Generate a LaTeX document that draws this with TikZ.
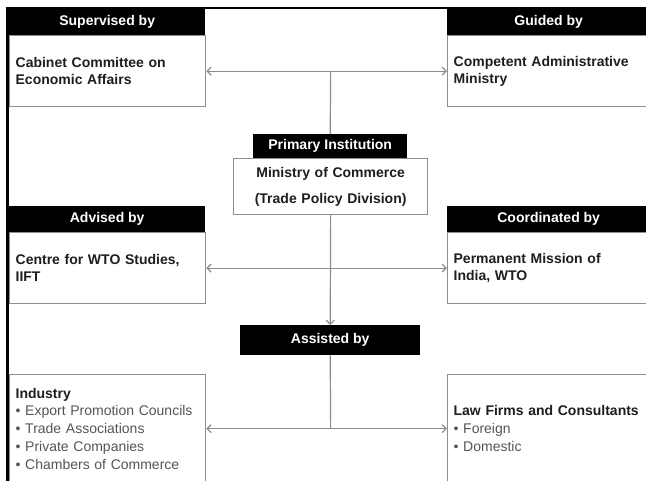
\documentclass[tikz,border=0pt]{standalone}
\usepackage{fontspec}
\setmainfont{Liberation Sans}
\usetikzlibrary{arrows.meta}
\definecolor{linegray}{HTML}{8C8C8C}
\definecolor{boxgray}{HTML}{8E8E8E}
\definecolor{txt}{HTML}{1E1E1E}
\definecolor{bul}{HTML}{555555}
\begin{document}
\begin{tikzpicture}[x=1pt,y=-1pt,
  >={Straight Barb[length=4pt,width=8pt]},
  hdr/.style={fill=black, text=white, font=\bfseries\fontsize{14}{16}\selectfont,
    inner sep=0pt, anchor=north west, minimum height=26pt},
  body/.style={draw=boxgray, line width=1.3pt, fill=white, anchor=north west,
    inner xsep=6pt, inner ysep=0pt, align=left, text=txt,
    font=\bfseries\fontsize{14}{16.5}\selectfont},
  listbody/.style={body, font=\bfseries\fontsize{14}{17.7}\selectfont},
  conn/.style={draw=linegray, line width=1.2pt}]
\useasboundingbox (0,0) rectangle (646,481);
\fill[white] (0,0) rectangle (646,481);
% frame
\draw[line width=2.4pt] (7.5,481) -- (7.5,7.8) -- (646,7.8);
% top row
\node[hdr, minimum width=196pt] (suph) at (9,9) {Supervised by};
\node[body, text width=184pt, minimum height=71pt] (supb) at (9,35) {Cabinet Committee on\\Economic Affairs};
\node[hdr, minimum width=203pt] (guih) at (447,9) {Guided by};
\node[body, text width=191pt, minimum height=71pt] (guib) at (447,35) {Competent Administrative\\Ministry};
% primary
\node[hdr, minimum width=154pt, minimum height=24pt] (primh) at (253,134) {Primary Institution};
\node[body, text width=182pt, minimum height=56pt, align=center,
  font=\bfseries\fontsize{14}{26}\selectfont] (minb) at (233,158) {Ministry of Commerce\\(Trade Policy Division)};
% middle row
\node[hdr, minimum width=196pt] (advh) at (9,206) {Advised by};
\node[body, text width=184pt, minimum height=71pt] (advb) at (9,232) {Centre for WTO Studies,\\IIFT};
\node[hdr, minimum width=203pt] (cooh) at (447,206) {Coordinated by};
\node[body, text width=191pt, minimum height=71pt] (coob) at (447,232) {Permanent Mission of\\India, WTO};
% assisted
\node[hdr, minimum width=180pt, minimum height=30pt] (assh) at (240,325) {Assisted by};
% bottom row
\node[listbody, text width=184pt, minimum height=108pt] (indb) at (9,374) {Industry\\
  {\mdseries\color{bul}• Export Promotion Councils}\\
  {\mdseries\color{bul}• Trade Associations}\\
  {\mdseries\color{bul}• Private Companies}\\
  {\mdseries\color{bul}• Chambers of Commerce}};
\node[listbody, text width=191pt, minimum height=108pt] (lawb) at (447,374) {Law Firms and Consultants\\
  {\mdseries\color{bul}• Foreign}\\
  {\mdseries\color{bul}• Domestic}};
% connectors
\coordinate (jt) at (minb.north |- supb.east);
\coordinate (jb) at (minb.south |- indb.east);
\draw[conn, <->] (supb.east) -- (guib.west);
\draw[conn] (jt) -- (primh.north);
\draw[conn, ->] (minb.south) -- (assh.north);
\draw[conn, <->] (advb.east) -- (coob.west);
\draw[conn] (assh.south) -- (jb);
\draw[conn, <->] (indb.east) -- (lawb.west);
\end{tikzpicture}
\end{document}
